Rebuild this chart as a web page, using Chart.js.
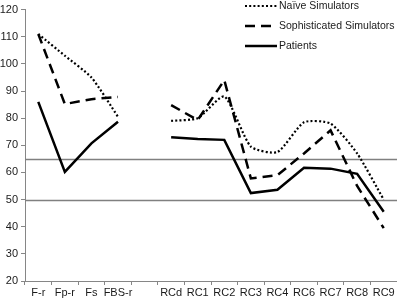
<!DOCTYPE html>
<html>
<head>
<meta charset="utf-8">
<script src="https://cdn.jsdelivr.net/npm/chart.js@4/dist/chart.umd.min.js"></script>
<style>
  html, body { margin: 0; padding: 0; background: #fff; }
  #wrap { width: 397px; height: 299px; position: relative; }
</style>
</head>
<body>
<div id="wrap"><canvas id="chart"></canvas></div>
<script>
'use strict';

/* ── DATA ─────────────────────────────────────────────────────── */
var scales        = ['F-r', 'Fp-r', 'Fs', 'FBS-r', '', 'RCd', 'RC1', 'RC2', 'RC3', 'RC4', 'RC6', 'RC7', 'RC8', 'RC9'];
var naive         = [111, 103, 95, 80.5, null, 79, 80, 88, 69.5, 67.5, 78.5, 78, 67, 50];
var sophisticated = [111, 85.2, 87, 87.8, null, 84.8, 79.3, 94, 57.8, 59, 67, 75.5, 55, 39.5];
var patients      = [86, 60.2, 70.7, 78.7, null, 73, 72.3, 72, 52.4, 53.6, 61.7, 61.4, 59.5, 45.5];
var refLines      = [65, 50];
var yTicks        = { min: 20, max: 120, step: 10 };

var FONT = '"Liberation Sans", Arial, sans-serif';

/* ── PLUGINS ──────────────────────────────────────────────────── */
var refLinePlugin = {
  id: 'refLines',
  beforeDatasetsDraw: function(chart) {
    var ctx = chart.ctx, area = chart.chartArea, y = chart.scales.y;
    ctx.save();
    ctx.strokeStyle = '#808080';
    ctx.lineWidth = 1.5;
    refLines.forEach(function(v) {
      var py = Math.round(y.getPixelForValue(v)) + 0.5;
      ctx.beginPath();
      ctx.moveTo(area.left, py);
      ctx.lineTo(area.right, py);
      ctx.stroke();
    });
    ctx.restore();
  }
};

/* legend drawn in the top-right corner, one entry per row */
var cornerLegend = {
  id: 'cornerLegend',
  afterDraw: function(chart) {
    var ctx = chart.ctx;
    var x0 = 245, x1 = 277, tx = 279, y0 = 6, rowH = 20;
    ctx.save();
    ctx.font = '10.5px ' + FONT;
    ctx.textBaseline = 'middle';
    chart.data.datasets.forEach(function(ds, i) {
      var y = y0 + i * rowH;
      ctx.strokeStyle = ds.borderColor;
      ctx.lineWidth = ds.borderWidth;
      ctx.setLineDash(ds.borderDash || []);
      ctx.beginPath();
      ctx.moveTo(x0, y);
      ctx.lineTo(x1, y);
      ctx.stroke();
      ctx.setLineDash([]);
      ctx.fillStyle = '#1a1a1a';
      ctx.fillText(ds.label, tx, y + 0.5);
    });
    ctx.restore();
  }
};

/* ── CHART ────────────────────────────────────────────────────── */
new Chart(document.getElementById('chart'), {
  type: 'line',
  data: {
    labels: scales,
    datasets: [
      { label: 'Naïve Simulators', data: naive, borderColor: '#000', borderWidth: 2.2,
        borderDash: [2, 2.2], tension: 0.2 },
      { label: 'Sophisticated Simulators', data: sophisticated, borderColor: '#000', borderWidth: 2.5,
        borderDash: [10, 6], tension: 0 },
      { label: 'Patients', data: patients, borderColor: '#000', borderWidth: 2.5, tension: 0 }
    ]
  },
  options: {
    responsive: true,
    maintainAspectRatio: false,
    animation: false,
    spanGaps: false,
    layout: { padding: { top: 5, right: 0, left: 0, bottom: 0 } },
    elements: { point: { radius: 0 }, line: { borderCapStyle: 'butt', borderJoinStyle: 'miter' } },
    scales: {
      x: {
        offset: true,
        grid: { offset: true, drawOnChartArea: false, drawTicks: true, tickLength: 4, color: '#868686' },
        border: { color: '#868686', width: 1 },
        ticks: { color: '#1a1a1a', font: { family: FONT, size: 11 }, padding: 1, maxRotation: 0, autoSkip: false },
        afterFit: function(s) { s.height = 18; }
      },
      y: {
        min: yTicks.min, max: yTicks.max,
        grid: { drawOnChartArea: false, drawTicks: true, tickLength: 4, color: '#868686' },
        border: { color: '#868686', width: 1 },
        ticks: { stepSize: yTicks.step, color: '#1a1a1a', font: { family: FONT, size: 11 }, padding: 3 },
        afterFit: function(s) { s.width = 25; }
      }
    },
    plugins: {
      legend: { display: false },
      tooltip: { enabled: false }
    }
  },
  plugins: [refLinePlugin, cornerLegend]
});
</script>
</body>
</html>
